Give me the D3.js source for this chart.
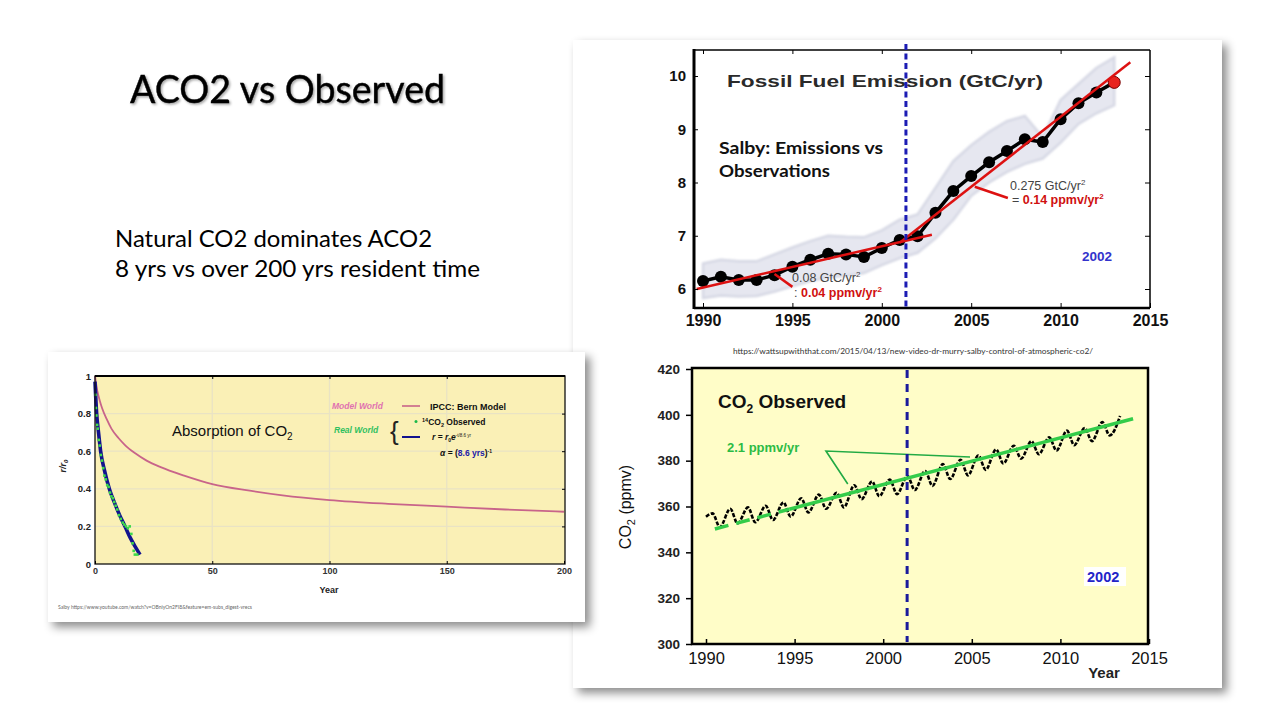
<!DOCTYPE html>
<html><head><meta charset="utf-8">
<script src="https://cdn.jsdelivr.net/npm/d3@7"></script>
<style>body{margin:0;background:#fff;} svg{display:block;}</style>
</head><body>
<svg id="c" width="1280" height="720"></svg>
<script>
// ---------------- DATA ----------------
// Fossil fuel emission chart (GtC/yr)
const feYears  = [1990,1991,1992,1993,1994,1995,1996,1997,1998,1999,2000,2001,2002,2003,2004,2005,2006,2007,2008,2009,2010,2011,2012,2013];
const feValues = [6.15,6.23,6.17,6.17,6.26,6.42,6.55,6.66,6.65,6.60,6.77,6.92,6.99,7.43,7.84,8.12,8.38,8.59,8.81,8.76,9.19,9.49,9.69,9.88];
const feBandHi = [6.48,6.55,6.52,6.52,6.65,6.78,6.90,7.00,6.98,6.97,7.10,7.30,7.40,7.90,8.40,8.70,8.95,9.15,9.25,8.85,9.55,9.85,10.15,10.35];
const feBandLo = [5.83,5.88,5.86,5.87,5.95,6.05,6.15,6.22,6.25,6.30,6.45,6.58,6.68,6.95,7.30,7.75,8.00,8.20,8.35,8.45,8.75,9.10,9.30,9.45];
const feTrendEarly = [[1989.65,6.00],[2002.8,7.02]];
const feTrendLate  = [[2001.0,6.87],[2013.9,10.26]];
const fePointerEarly = [[1994.0,6.28],[1995.0,6.04]];
const fePointerLate  = [[2005.2,7.92],[2007.05,7.71]];
const feXTicks = [1990,1995,2000,2005,2010,2015];
const feYTicks = [6,7,8,9,10];
const breakYear = 2001.35;

// CO2 observed chart (ppmv): seasonal max / min per year
const co2Years = [1990,1991,1992,1993,1994,1995,1996,1997,1998,1999,2000,2001,2002,2003,2004,2005,2006,2007,2008,2009,2010,2011,2012,2013];
const co2Max   = [357.0,359.0,359.6,360.3,361.8,363.6,365.2,366.0,369.3,370.9,371.8,373.3,375.5,378.5,380.4,382.3,384.9,386.5,388.5,390.2,393.1,394.2,396.8,399.5];
const co2Min   = [351.0,352.6,353.1,354.1,355.6,357.4,359.0,359.6,363.2,364.5,365.4,367.2,369.0,372.0,373.6,376.0,378.8,380.9,382.8,384.4,386.8,388.5,391.0,393.5];
const co2Start = [1990.0,355.5];
const co2TrendDashed = [[1990.5,350.2],[1994.7,358.8]];
const co2TrendSolid  = [[1994.7,358.8],[2014.1,398.3]];
const co2Pointer = [[1998.0,369.8],[1996.77,384.2],[2004.9,381.6]];
const co2XTicks = [1990,1995,2000,2005,2010,2015];
const co2YTicks = [300,320,340,360,380,400,420];

// Absorption of CO2 chart
const bernYears  = [0,1,2,3,5,7,10,13,17,22,28,38,50,66,80,100,125,150,175,200];
const bernValues = [1,0.92,0.87,0.83,0.77,0.72,0.67,0.63,0.59,0.55,0.515,0.47,0.425,0.39,0.365,0.34,0.32,0.305,0.29,0.278];
const fitYears   = [0,0.7,1.5,2.4,4,6.1,8.5,10.5,12.8,15,17,19.2];
const fitValues  = [0.97,0.8,0.7,0.6,0.5,0.4,0.32,0.26,0.2,0.14,0.095,0.05];
const obsYears   = [0.2,0.4,0.6,0.9,1.2,1.6,2.0,2.5,3.0,3.5,4.0,4.6,5.2,5.8,6.4,7.0,7.6,8.2,8.8,9.5,10.2,11.0,11.8,12.5,13.2,14.0,14.8,15.5,16.0,16.5,17.0,18.0];
const obsValues  = [0.9,0.83,0.79,0.74,0.72,0.66,0.63,0.58,0.55,0.51,0.47,0.45,0.42,0.41,0.38,0.36,0.35,0.33,0.31,0.29,0.26,0.24,0.22,0.21,0.2,0.19,0.2,0.16,0.11,0.07,0.05,0.05];
const absXTicks = [0,50,100,150,200];
const absYTicks = [0,0.2,0.4,0.6,0.8,1];
const absYLabels = ["0","0.2","0.4","0.6","0.8","1"];

// ---------------- DRAW ----------------
const svg = d3.select('#c');
const defs = svg.append('defs');
const f = defs.append('filter').attr('id','shadow').attr('x','-5%').attr('y','-5%').attr('width','115%').attr('height','115%');
f.append('feDropShadow').attr('dx',5).attr('dy',5).attr('stdDeviation',5).attr('flood-color','#000').attr('flood-opacity',0.45);
const tf = defs.append('filter').attr('id','tshadow').attr('x','-5%').attr('y','-20%').attr('width','115%').attr('height','150%');
tf.append('feDropShadow').attr('dx',1.5).attr('dy',1.5).attr('stdDeviation',1).attr('flood-color','#000').attr('flood-opacity',0.35);
const bf = defs.append('filter').attr('id','soft').attr('x','-5%').attr('y','-5%').attr('width','110%').attr('height','110%');
bf.append('feGaussianBlur').attr('stdDeviation',1.2);

const ARIAL = "'Liberation Sans', Arial, sans-serif";
const CAL = "Lato, 'Open Sans', sans-serif";

svg.append('rect').attr('width',1280).attr('height',720).attr('fill','#fff');

// Slide texts
svg.append('text').attr('x',130).attr('y',103).attr('font-family',CAL).attr('font-size',38)
  .attr('textLength',315).attr('lengthAdjust','spacingAndGlyphs').attr('fill','#000').attr('filter','url(#tshadow)')
  .attr('stroke','#000').attr('stroke-width',0.4)
  .text('ACO2 vs Observed');
svg.append('text').attr('x',115).attr('y',247).attr('font-family',CAL).attr('font-size',23)
  .attr('textLength',317).attr('lengthAdjust','spacingAndGlyphs').text('Natural CO2 dominates ACO2');
svg.append('text').attr('x',115).attr('y',277).attr('font-family',CAL).attr('font-size',23)
  .attr('textLength',365).attr('lengthAdjust','spacingAndGlyphs').text('8 yrs vs over 200 yrs resident time');

// ---------- Right panel ----------
svg.append('rect').attr('x',573).attr('y',40).attr('width',649).attr('height',648).attr('fill','#fff').attr('filter','url(#shadow)');

// Top chart
const xT = d3.scaleLinear().domain([1990,2015]).range([703,1150]);
const yT = d3.scaleLinear().domain([6,10]).range([289,76]);
const tL = 694, tR = 1150, tTop = 50, tBot = 308;
const topG = svg.append('g');

const feData = feYears.map((y,i)=>({y, v:feValues[i], hi:feBandHi[i], lo:feBandLo[i]}));
topG.append('path').datum(feData)
  .attr('d', d3.area().x(d=>xT(d.y)).y0(d=>yT(d.lo)).y1(d=>yT(d.hi)))
  .attr('fill','#e6e7f0').attr('stroke','#d6d8e4').attr('stroke-width',2.5).attr('filter','url(#soft)');

topG.append('path').datum(feData).attr('d', d3.line().x(d=>xT(d.y)).y(d=>yT(d.v)))
  .attr('fill','none').attr('stroke','#000').attr('stroke-width',3.5);
topG.selectAll('circle.fe').data(feData).join('circle').attr('class','fe')
  .attr('cx',d=>xT(d.y)).attr('cy',d=>yT(d.v)).attr('r',6)
  .attr('fill',(d,i)=> i===feData.length-1 ? '#e8231e' : '#000')
  .attr('stroke',(d,i)=> i===feData.length-1 ? '#700' : 'none');

const lineT = d3.line().x(d=>xT(d[0])).y(d=>yT(d[1]));
[feTrendEarly, feTrendLate, fePointerEarly, fePointerLate].forEach(s=>{
  topG.append('path').attr('d',lineT(s)).attr('fill','none').attr('stroke','#dd1111').attr('stroke-width',2.5);
});

// frame
topG.append('line').attr('x1',tL).attr('x2',tR).attr('y1',tTop).attr('y2',tTop).attr('stroke','#000').attr('stroke-width',1.5);
topG.append('line').attr('x1',tR).attr('x2',tR).attr('y1',tTop).attr('y2',tBot).attr('stroke','#000').attr('stroke-width',1.5);
topG.append('line').attr('x1',tL).attr('x2',tR).attr('y1',tBot).attr('y2',tBot).attr('stroke','#000').attr('stroke-width',2.5);
topG.append('line').attr('x1',tL).attr('x2',tL).attr('y1',tTop-1).attr('y2',tBot+1).attr('stroke','#000').attr('stroke-width',3);

const axTB = topG.append('g').attr('transform',`translate(0,${tBot})`)
  .call(d3.axisBottom(xT).tickValues(feXTicks).tickFormat(d3.format('d')).tickSizeInner(-5).tickSizeOuter(0).tickPadding(7));
axTB.select('.domain').remove();
axTB.selectAll('text').attr('font-family',ARIAL).attr('font-weight','bold').attr('font-size',16).attr('fill','#111');
const axTT = topG.append('g').attr('transform',`translate(0,${tTop})`)
  .call(d3.axisTop(xT).tickValues(feXTicks.filter(d=>d<2015)).tickFormat('').tickSizeInner(-4).tickSizeOuter(0));
axTT.select('.domain').remove();
const axTL = topG.append('g').attr('transform',`translate(${tL},0)`)
  .call(d3.axisLeft(yT).tickValues(feYTicks).tickFormat(d3.format('d')).tickSizeInner(-4).tickSizeOuter(0).tickPadding(8));
axTL.select('.domain').remove();
axTL.selectAll('text').attr('font-family',ARIAL).attr('font-weight','bold').attr('font-size',15).attr('fill','#111');
const axTR = topG.append('g').attr('transform',`translate(${tR},0)`)
  .call(d3.axisRight(yT).tickValues(feYTicks).tickFormat('').tickSizeInner(-5).tickSizeOuter(0));
axTR.select('.domain').remove();

// title and annotations
topG.append('text').attr('x',727).attr('y',87).attr('font-family',ARIAL).attr('font-weight','bold').attr('font-size',17)
  .attr('textLength',316).attr('lengthAdjust','spacingAndGlyphs').attr('fill','#2a2a2a').text('Fossil Fuel Emission (GtC/yr)');
topG.append('text').attr('x',719).attr('y',154).attr('font-family',CAL).attr('font-weight','bold').attr('font-size',17.5)
  .attr('textLength',164).attr('lengthAdjust','spacingAndGlyphs').attr('fill','#111').text('Salby:  Emissions vs');
topG.append('text').attr('x',719).attr('y',177).attr('font-family',CAL).attr('font-weight','bold').attr('font-size',17.5)
  .attr('textLength',111).attr('lengthAdjust','spacingAndGlyphs').attr('fill','#111').text('Observations');

function annot(x, y1, y2, g1, g2, sep){
  const t1 = topG.append('text').attr('x',x).attr('y',y1).attr('font-family',ARIAL).attr('font-size',12.5).attr('fill','#444');
  t1.append('tspan').text(g1);
  t1.append('tspan').attr('font-size',8).attr('dy',-5).text('2');
  const t2 = topG.append('text').attr('x',x+2).attr('y',y2).attr('font-family',ARIAL).attr('font-size',12.5);
  t2.append('tspan').attr('fill','#444').text(sep);
  t2.append('tspan').attr('fill','#d01010').attr('font-weight','bold').text(g2);
  t2.append('tspan').attr('fill','#d01010').attr('font-weight','bold').attr('font-size',8).attr('dy',-5).text('2');
}
annot(792, 282, 297, '0.08 GtC/yr', '0.04 ppmv/yr', ':  ');
annot(1010, 190, 204, '0.275 GtC/yr', '0.14 ppmv/yr', '= ');
topG.append('text').attr('x',1082).attr('y',261).attr('font-family',ARIAL).attr('font-weight','bold').attr('font-size',13.5)
  .attr('fill','#3333cc').text('2002');

topG.append('line').attr('x1',xT(breakYear)).attr('x2',xT(breakYear)).attr('y1',tTop-6).attr('y2',tBot-1)
  .attr('stroke','#1c1cb4').attr('stroke-width',3).attr('stroke-dasharray','6,3.5');

// URL
svg.append('text').attr('x',733).attr('y',354).attr('font-family',CAL).attr('font-size',8)
  .attr('textLength',360).attr('lengthAdjust','spacingAndGlyphs').attr('fill','#333')
  .text('https://wattsupwiththat.com/2015/04/13/new-video-dr-murry-salby-control-of-atmospheric-co2/');

// Bottom chart
const xB = d3.scaleLinear().domain([1990,2015]).range([706,1149]);
const yB = d3.scaleLinear().domain([300,420]).range([644,369]);
const bL = 692, bR = 1148, bTop = 368, bBot = 644;
const bot = svg.append('g');
bot.append('rect').attr('x',bL).attr('y',bTop).attr('width',bR-bL).attr('height',bBot-bTop).attr('fill','#fffdc8');

const co2Pts = [co2Start];
co2Years.forEach((y,i)=>{ co2Pts.push([y+0.37, co2Max[i]]); if(i<co2Years.length-1) co2Pts.push([y+0.78, co2Min[i]]); });
const lineB = d3.line().x(d=>xB(d[0])).y(d=>yB(d[1]));
bot.append('path').attr('d', lineB.curve(d3.curveMonotoneX)(co2Pts)).attr('fill','none')
  .attr('stroke','#000').attr('stroke-width',2.6).attr('stroke-dasharray','4,1.6');
lineB.curve(d3.curveLinear);
bot.append('path').attr('d', lineB(co2TrendDashed)).attr('fill','none').attr('stroke','#33cc4a').attr('stroke-width',3.5).attr('stroke-dasharray','14,8');
bot.append('path').attr('d', lineB(co2TrendSolid)).attr('fill','none').attr('stroke','#33cc4a').attr('stroke-width',3.5);
bot.append('path').attr('d', lineB(co2Pointer)).attr('fill','none').attr('stroke','#22aa44').attr('stroke-width',1.6);

bot.append('rect').attr('x',bL).attr('y',bTop).attr('width',bR-bL).attr('height',bBot-bTop).attr('fill','none')
  .attr('stroke','#000').attr('stroke-width',2.5);
const axBB = bot.append('g').attr('transform',`translate(0,${bBot})`)
  .call(d3.axisBottom(xB).tickValues(co2XTicks).tickFormat(d3.format('d')).tickSizeInner(-5).tickSizeOuter(0).tickPadding(8));
axBB.select('.domain').remove();
axBB.selectAll('text').attr('font-family',ARIAL).attr('font-size',16.5).attr('fill','#111');
axBB.selectAll('line').attr('stroke-width',1.5);
const axBL = bot.append('g').attr('transform',`translate(${bL},0)`)
  .call(d3.axisLeft(yB).tickValues(co2YTicks).tickSizeInner(6).tickSizeOuter(0).tickPadding(6));
axBL.select('.domain').remove();
axBL.selectAll('text').attr('font-family',ARIAL).attr('font-weight','bold').attr('font-size',13.5).attr('fill','#222');
axBL.selectAll('line').attr('stroke-width',1.5);

const yl = bot.append('text').attr('transform','translate(631,507) rotate(-90)').attr('text-anchor','middle')
  .attr('font-family',ARIAL).attr('font-size',16).attr('fill','#111');
yl.append('tspan').text('CO');
yl.append('tspan').attr('font-size',11).attr('dy',4).text('2');
yl.append('tspan').attr('dy',-4).text(' (ppmv)');
bot.append('text').attr('x',1104).attr('y',678).attr('text-anchor','middle').attr('font-family',ARIAL).attr('font-weight','bold')
  .attr('font-size',15).attr('fill','#222').text('Year');

const tt = bot.append('text').attr('x',718).attr('y',408).attr('font-family',ARIAL).attr('font-weight','bold').attr('font-size',19).attr('fill','#111');
tt.append('tspan').text('CO');
tt.append('tspan').attr('font-size',12).attr('dy',5).text('2');
tt.append('tspan').attr('dy',-5).text(' Observed');
bot.append('text').attr('x',727).attr('y',452).attr('font-family',ARIAL).attr('font-weight','bold').attr('font-size',13)
  .attr('fill','#2bbb45').text('2.1 ppmv/yr');
bot.append('rect').attr('x',1084).attr('y',567).attr('width',42).attr('height',19).attr('fill','#fff');
bot.append('text').attr('x',1087).attr('y',582).attr('font-family',ARIAL).attr('font-weight','bold').attr('font-size',14.5)
  .attr('fill','#2323c8').text('2002');

bot.append('line').attr('x1',xB(breakYear)).attr('x2',xB(breakYear)).attr('y1',bTop+2).attr('y2',bBot-2)
  .attr('stroke','#1a1a9c').attr('stroke-width',3).attr('stroke-dasharray','8,6');

// ---------- Bottom-left panel ----------
svg.append('rect').attr('x',48).attr('y',352).attr('width',537).attr('height',270).attr('fill','#fff').attr('filter','url(#shadow)');
const xA = d3.scaleLinear().domain([0,200]).range([95,564]);
const yA = d3.scaleLinear().domain([0,1]).range([564,376]);
const ab = svg.append('g');
ab.append('rect').attr('x',95).attr('y',376).attr('width',470).attr('height',188).attr('fill','#faf0b6');
ab.selectAll('line.gx').data(absXTicks.slice(1,-1)).join('line').attr('class','gx')
  .attr('x1',d=>xA(d)).attr('x2',d=>xA(d)).attr('y1',376).attr('y2',564).attr('stroke','#e9e3c4').attr('stroke-width',1.3);
ab.selectAll('line.gy').data(absYTicks.slice(1,-1)).join('line').attr('class','gy')
  .attr('x1',95).attr('x2',565).attr('y1',d=>yA(d)).attr('y2',d=>yA(d)).attr('stroke','#e9e3c4').attr('stroke-width',1.3);

const lineA = d3.line().x(d=>xA(d[0])).y(d=>yA(d[1])).curve(d3.curveMonotoneX);
ab.append('path').attr('d', lineA(bernYears.map((y,i)=>[y,bernValues[i]]))).attr('fill','none')
  .attr('stroke','#c8648a').attr('stroke-width',1.8);
ab.append('path').attr('d', lineA(fitYears.map((y,i)=>[y,fitValues[i]]))).attr('fill','none')
  .attr('stroke','#12128e').attr('stroke-width',3.6);
ab.selectAll('rect.obs').data(obsYears.map((y,i)=>[y,obsValues[i]])).join('rect').attr('class','obs')
  .attr('x',d=>xA(d[0])-1.3).attr('y',d=>yA(d[1])-1.3).attr('width',2.6).attr('height',2.6).attr('fill','#3fd84a');

ab.append('rect').attr('x',95).attr('y',376).attr('width',470).attr('height',188).attr('fill','none').attr('stroke','#111').attr('stroke-width',1.3);
ab.append('line').attr('x1',95).attr('x2',565).attr('y1',376).attr('y2',376).attr('stroke','#000').attr('stroke-width',2.2);
const axAB = ab.append('g').attr('transform','translate(0,564)')
  .call(d3.axisBottom(xA).tickValues(absXTicks).tickSizeInner(-3).tickSizeOuter(0).tickPadding(4));
axAB.select('.domain').remove();
axAB.selectAll('text').attr('font-family',ARIAL).attr('font-weight','bold').attr('font-size',9).attr('fill','#333');
const axAL = ab.append('g').attr('transform','translate(95,0)')
  .call(d3.axisLeft(yA).tickValues(absYTicks).tickFormat((d,i)=>absYLabels[i]).tickSizeInner(0).tickSizeOuter(0).tickPadding(4));
axAL.select('.domain').remove();
axAL.selectAll('text').attr('font-family',ARIAL).attr('font-weight','bold').attr('font-size',9.5).attr('fill','#222');
const axAR = ab.append('g').attr('transform','translate(565,0)')
  .call(d3.axisRight(yA).tickValues(absYTicks.slice(1,-1)).tickFormat('').tickSizeInner(-3).tickSizeOuter(0));
axAR.select('.domain').remove();
const axAT = ab.append('g').attr('transform','translate(0,376)')
  .call(d3.axisTop(xA).tickValues(absXTicks.slice(1,-1)).tickFormat('').tickSizeInner(-3).tickSizeOuter(0));
axAT.select('.domain').remove();

ab.append('text').attr('x',329).attr('y',593).attr('text-anchor','middle').attr('font-family',ARIAL).attr('font-weight','bold')
  .attr('font-size',9).attr('fill','#222').text('Year');
const rr = ab.append('text').attr('transform','translate(66,466) rotate(-90)').attr('text-anchor','middle')
  .attr('font-family',ARIAL).attr('font-weight','bold').attr('font-style','italic').attr('font-size',9).attr('fill','#222');
rr.append('tspan').text('r/r');
rr.append('tspan').attr('font-size',6).attr('dy',2).text('0');

const at = ab.append('text').attr('x',172).attr('y',436).attr('font-family',ARIAL).attr('font-size',15).attr('fill','#111');
at.append('tspan').text('Absorption of CO');
at.append('tspan').attr('font-size',10).attr('dy',4).text('2');

// legend
const LF = 8.5;
ab.append('text').attr('x',332).attr('y',409).attr('font-family',ARIAL).attr('font-style','italic').attr('font-weight','bold')
  .attr('font-size',LF).attr('fill','#e070b0').text('Model World');
ab.append('line').attr('x1',402).attr('x2',420).attr('y1',406).attr('y2',406).attr('stroke','#c8648a').attr('stroke-width',1.6);
ab.append('text').attr('x',430).attr('y',409.5).attr('font-family',ARIAL).attr('font-weight','bold').attr('font-size',9).attr('fill','#111').text('IPCC: Bern Model');
ab.append('text').attr('x',334).attr('y',433).attr('font-family',ARIAL).attr('font-style','italic').attr('font-weight','bold')
  .attr('font-size',LF).attr('fill','#2fc060').text('Real World');
ab.append('text').attr('x',390).attr('y',440).attr('font-family',ARIAL).attr('font-size',26).attr('fill','#222').text('{');
ab.append('circle').attr('cx',416).attr('cy',421.5).attr('r',1.5).attr('fill','#1cb84a');
const lo = ab.append('text').attr('x',422).attr('y',424.5).attr('font-family',ARIAL).attr('font-weight','bold').attr('font-size',LF).attr('fill','#111');
lo.append('tspan').attr('font-size',5.5).attr('dy',-3).text('14');
lo.append('tspan').attr('dy',3).text('CO');
lo.append('tspan').attr('font-size',5.5).attr('dy',2).text('2');
lo.append('tspan').attr('dy',-2).text(' Observed');
ab.append('line').attr('x1',402).attr('x2',420).attr('y1',437).attr('y2',437).attr('stroke','#12128e').attr('stroke-width',2);
const lr = ab.append('text').attr('x',432).attr('y',440).attr('font-family',ARIAL).attr('font-weight','bold').attr('font-size',LF).attr('fill','#111');
lr.append('tspan').attr('font-style','italic').text('r');
lr.append('tspan').text(' = ');
lr.append('tspan').attr('font-style','italic').text('r');
lr.append('tspan').attr('font-size',5).attr('dy',2).text('0');
lr.append('tspan').attr('font-style','italic').attr('dy',-2).text('e');
lr.append('tspan').attr('font-size',4.5).attr('font-weight','normal').attr('dy',-3).text('-t/8.6 yr');
const la = ab.append('text').attr('x',440).attr('y',456).attr('font-family',ARIAL).attr('font-weight','bold').attr('font-size',LF).attr('fill','#111');
la.append('tspan').attr('font-style','italic').text('α');
la.append('tspan').text(' = (');
la.append('tspan').attr('fill','#1a1aa8').text('8.6 yrs');
la.append('tspan').text(')');
la.append('tspan').attr('font-size',5).attr('dy',-3).text('-1');

svg.append('text').attr('x',58).attr('y',609).attr('font-family',CAL).attr('font-size',5)
  .attr('textLength',194).attr('lengthAdjust','spacingAndGlyphs').attr('fill','#666')
  .text('Salby  https://www.youtube.com/watch?v=OBniyOn2FI8&feature=em-subs_digest-vrecs');
</script>
</body></html>
